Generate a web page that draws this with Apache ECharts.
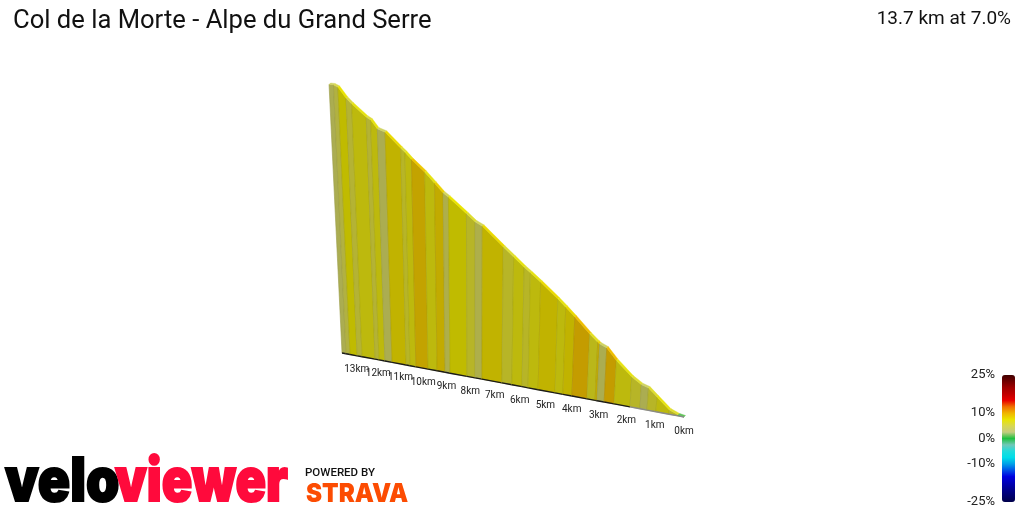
<!DOCTYPE html>
<html>
<head>
<meta charset="utf-8">
<style>
html,body{margin:0;padding:0;background:#fff}
#chart{width:1024px;height:512px}
</style>
<script src="https://cdn.jsdelivr.net/npm/echarts@6/dist/echarts.min.js"></script>
</head>
<body>
<div id="chart"></div>
<script>
// km from the start of the profile
const breaksKm = [13.69,13.50,13.31,12.98,12.75,12.15,11.97,11.70,11.38,10.75,10.58,10.32,9.79,9.40,9.06,8.85,8.14,7.80,7.52,6.71,6.31,5.91,5.67,5.28,4.63,4.33,3.99,3.43,3.13,3.06,2.80,2.44,1.87,1.52,1.27,0.96,0.51,0.20,0]
// metres climbed at each break
const elevation = [959,958,951,917,899,858,850,822,813,764,752,730,692,659,629,617,568,544,533,472,443,414,398,371,324,300,272,223,200,195,185,149,102,82,75,50,14,3,0]
// gradient % of each stripe, judged from its colour
const gradePct = [4,5,7.5,5.5,7,5.5,7,4,8,6,7,9,7,8.5,4.5,7.5,6,4.5,8,6,7,6,7,8,7,8,9.5,6.5,8.5,4,9.5,7,6,4,6,7,6,1]
const kmTicks = [13,12,11,10,9,8,7,6,5,4,3,2,1,0]
const legendTicks = [25,10,0,-10,-25]
// legend colours, -25% to 25% in even steps
const gradeColors = ['#00004a','#00006e','#000090','#0000b8','#0000e0','#0050e8','#00a0e8','#00dde8','#20dcdc','#70c8b8','#20c040','#c4cc80','#d8d850','#eae400','#f0b400','#f07000','#e80000','#c00000','#a00000','#700000','#400000']

const segments = gradePct.map((g,i) => [breaksKm[i],breaksKm[i+1],elevation[i],elevation[i+1],g])

// the grid is flat, this tilts it like the 3d view
function tilt(pt,cs){
	const u = (cs.x+cs.width-pt[0])/cs.width
	const v = (cs.y+cs.height-pt[1])/cs.height
	const w = 1+0.185*u-0.1055*v
	return [684+(-405.5*u+22.06*v)/w, 417+(-75.9*u-283.4*v)/w]
}

function shade(color,f){
	const c = color.match(/[\d.]+/g)
	return 'rgb('+Math.round(c[0]*f)+','+Math.round(c[1]*f)+','+Math.round(c[2]*f)+')'
}

const chart = echarts.init(document.getElementById('chart'),null,{renderer:'canvas'})
chart.setOption({
	animation:false,
	backgroundColor:'#fff',
	title:[
		{text:'Col de la Morte - Alpe du Grand Serre',left:8,top:4,textStyle:{fontFamily:'Roboto',fontSize:25.6,fontWeight:'normal',color:'#111'}},
		{text:'13.7 km at 7.0%',right:8,top:5,textStyle:{fontFamily:'Roboto',fontSize:19,fontWeight:'normal',color:'#111'}}
	],
	grid:[
		{left:342,width:342,top:82,height:335},
		{left:1002,width:13,top:375,height:127}
	],
	xAxis:[
		{type:'value',min:0,max:13.7,inverse:true,show:false,gridIndex:0},
		{type:'value',min:0,max:1,show:false,gridIndex:1}
	],
	yAxis:[
		{type:'value',min:0,max:960,show:false,gridIndex:0},
		{type:'value',min:-25,max:25,gridIndex:1,position:'left',
			axisLine:{show:false},axisTick:{show:false},splitLine:{show:false},
			axisLabel:{customValues:legendTicks,formatter:'{value}%',margin:7,fontFamily:'Roboto',fontSize:13,color:'#222'}}
	],
	visualMap:{
		type:'continuous',seriesIndex:0,dimension:4,min:-25,max:25,
		left:1002,top:375,itemWidth:13,itemHeight:127,padding:0,
		text:null,calculable:false,inRange:{color:gradeColors}
	},
	series:[
		{
			type:'custom',
			coordinateSystem:'cartesian2d',
			silent:true,
			clip:false,
			data:segments,
			renderItem(params,api){
				const cs = params.coordSys
				const p = (km,el) => tilt(api.coord([km,el]),cs)
				const color = api.visual('color')
				const side = shade(color,0.82)
				const edge = shade(color,0.74)
				const k0 = api.value(0), k1 = api.value(1), e0 = api.value(2), e1 = api.value(3)
				const a = p(k0,0), b = p(k1,0), c = p(k1,e1), d = p(k0,e0)
				const off = [1.5,-1.5]
				return {type:'group',children:[
					{type:'polygon',shape:{points:[a,b,c,d]},style:{fill:side,stroke:edge,lineWidth:0.6}},
					{type:'polygon',shape:{points:[d,c,[c[0]+off[0],c[1]+off[1]],[d[0]+off[0],d[1]+off[1]]]},style:{fill:color,stroke:color,lineWidth:0.4}},
					{type:'line',shape:{x1:a[0],y1:a[1],x2:b[0],y2:b[1]},style:{stroke:k0>2?'#1a1a1a':'#8a8a8a',lineWidth:1.4}}
				]}
			}
		},
		{
			type:'custom',
			coordinateSystem:'cartesian2d',
			silent:true,
			clip:false,
			data:kmTicks.map(k => [k,0]),
			renderItem(params,api){
				const pt = tilt(api.coord([api.value(0),0]),params.coordSys)
				return {type:'text',x:pt[0],y:pt[1]+14,style:{text:api.value(0)+'km',align:'center',verticalAlign:'middle',font:'10px Roboto',fill:'#222'}}
			}
		}
	],
	graphic:[
		{type:'text',x:5,y:513,scaleX:0.89,style:{text:'velo',font:'900 60px Inter',fill:'#000',stroke:'#000',lineWidth:2,verticalAlign:'bottom'}},
		{type:'text',x:115,y:513,scaleX:0.84,style:{text:'viewer',font:'900 60px Inter',fill:'#ff0a3c',stroke:'#ff0a3c',lineWidth:2,verticalAlign:'bottom'}},
		{type:'text',x:305,y:473,scaleX:1.15,style:{text:'POWERED BY',font:'500 10px Roboto',fill:'#111',verticalAlign:'middle'}},
		{type:'text',x:306,y:494,scaleX:0.93,style:{text:'STRAVA',font:'900 26px Inter',fill:'#fc4c02',verticalAlign:'middle'}}
	]
})
</script>
</body>
</html>
